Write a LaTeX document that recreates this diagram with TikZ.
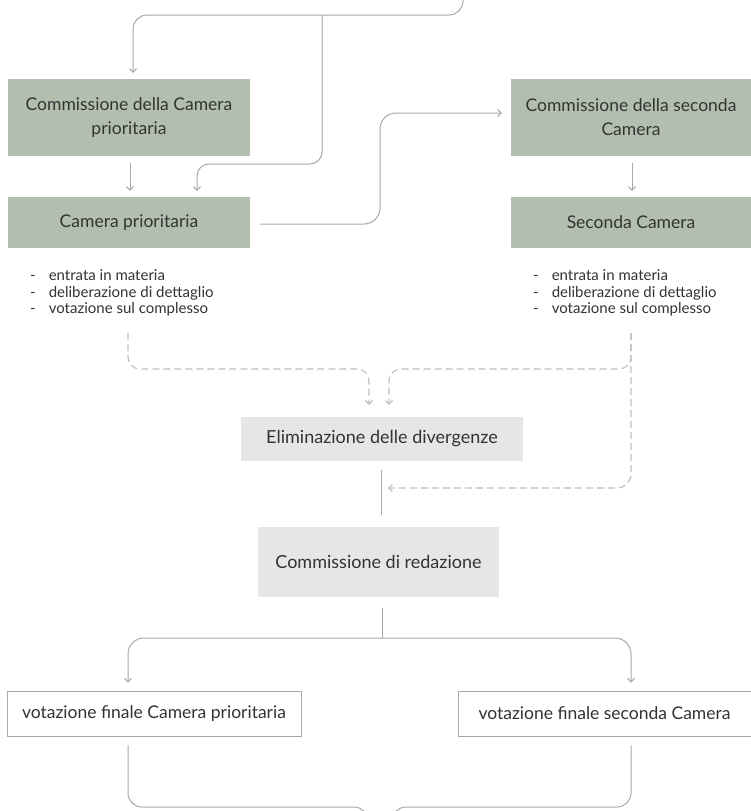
\documentclass[tikz,border=0pt]{standalone}
\usepackage{fontspec}
\setmainfont{Lato}
\usetikzlibrary{arrows.meta,calc}
\definecolor{boxgreen}{HTML}{B3BFAE}
\definecolor{boxgray}{HTML}{E6E6E6}
\definecolor{lncol}{HTML}{A8A8A8}
\definecolor{dshcol}{HTML}{C0C0C0}
\definecolor{txt}{HTML}{333333}
\begin{document}
\begin{tikzpicture}[x=1pt,y=-1pt,
  greenbox/.style={draw=none, fill=boxgreen, inner sep=0pt, align=center, text=txt, font=\fontsize{17.5}{24}\selectfont},
  graybox/.style={draw=none, fill=boxgray, inner sep=0pt, align=center, text=txt, font=\fontsize{18}{22}\selectfont},
  whitebox/.style={draw=lncol, line width=0.8pt, fill=white, inner sep=0pt, text=txt, font=\fontsize{17.5}{20}\selectfont},
  ln/.style={draw=lncol, line width=1pt},
  dsh/.style={draw=dshcol, line width=1.2pt, dash pattern=on 7pt off 4pt},
  arr/.style={-{Straight Barb[length=3.5pt,width=7pt]}},
  listtxt/.style={anchor=west, inner sep=0pt, text=txt, font=\fontsize{15}{16.5}\selectfont}
]
\clip (0,0) rectangle (751,811);
\fill[white] (0,0) rectangle (751,811);

% boxes
\node[greenbox, minimum width=242pt, minimum height=77pt] (A) at (129,117.5) {Commissione della Camera\\prioritaria};
\node[greenbox, minimum width=242pt, minimum height=51pt] (B) at (129,222.5) {Camera prioritaria};
\node[greenbox, minimum width=240pt, minimum height=77pt] (C) at (631,117.5) {Commissione della seconda\\Camera};
\node[greenbox, minimum width=240pt, minimum height=51pt] (D) at (631,222.5) {Seconda Camera};
\node[graybox, minimum width=282pt, minimum height=44pt] (E) at (382,439) {Eliminazione delle divergenze};
\node[graybox, minimum width=241pt, minimum height=70pt] (F) at (378.5,562) {Commissione di redazione};
\node[whitebox, minimum width=294pt, minimum height=45pt] (G) at (154,713.5) {votazione finale Camera prioritaria};
\node[whitebox, minimum width=293pt, minimum height=45pt] (H) at (604.5,713.5) {votazione finale seconda Camera};

% lists
\node[listtxt] (L) at (30,294) {\begin{tabular}{@{}l@{\hspace{13pt}}l@{}}-&entrata in materia\\-&deliberazione di dettaglio\\-&votazione sul complesso\end{tabular}};
\node[listtxt] (R) at (533,294) {\begin{tabular}{@{}l@{\hspace{13pt}}l@{}}-&entrata in materia\\-&deliberazione di dettaglio\\-&votazione sul complesso\end{tabular}};

% coordinates
\coordinate (tin) at (463,0);
\coordinate (j1) at (322,15);
\coordinate (j2) at (322,164);
\coordinate (dl) at (128,333);
\coordinate (dr) at (631,333);
\coordinate (ef) at (381,488);
\coordinate (j3) at (382,638);
\coordinate (bo1) at (368,840);
\coordinate (bo2) at (392,840);

% top connectors
\draw[ln, rounded corners=14pt] (tin) |- (j1);
\draw[ln, arr, rounded corners=14pt, shorten >=6pt] (j1) -| ([xshift=4pt]A.north);
\draw[ln, arr, rounded corners=12pt, shorten >=6pt] (j1) -- (j2) -| ([xshift=68pt]B.north);
\draw[ln, arr, shorten <=7pt, shorten >=6pt] ([xshift=1pt]A.south) -- ([xshift=1pt]B.north);
\draw[ln, arr, rounded corners=16pt, shorten <=10pt, shorten >=9pt] ([yshift=-1.5pt]B.east) -| (380,170) |- ([yshift=4.5pt]C.west);
\draw[ln, arr, shorten <=7pt, shorten >=6pt] ([xshift=1pt]C.south) -- ([xshift=1pt]D.north);

% dashed connectors
\draw[dsh, arr, rounded corners=12pt, shorten >=12pt] (dl) |- (250,369) -| ([xshift=-13pt]E.north);
\draw[dsh, arr, rounded corners=12pt, shorten >=12pt] (dr) |- (500,369) -| ([xshift=7pt]E.north);
\draw[dsh, arr, rounded corners=14pt, shorten >=7pt] (dr) |- (ef);

% middle
\draw[ln, shorten <=9pt, shorten >=12pt] ([xshift=-1pt]E.south) -- ([xshift=2.5pt]F.north);
\draw[ln, shorten <=11pt] ([xshift=3.5pt]F.south) -- (j3);
\draw[ln, arr, rounded corners=16pt, shorten >=8pt] (j3) -| ([xshift=-26pt]G.north);
\draw[ln, arr, rounded corners=16pt, shorten >=8pt] (j3) -| ([xshift=26.5pt]H.north);

% bottom
\draw[ln, rounded corners=14pt, shorten <=9pt] ([xshift=-26pt]G.south) |- (300,807) -| (bo1);
\draw[ln, rounded corners=14pt, shorten <=9pt] ([xshift=26.5pt]H.south) |- (450,807) -| (bo2);
\end{tikzpicture}
\end{document}
